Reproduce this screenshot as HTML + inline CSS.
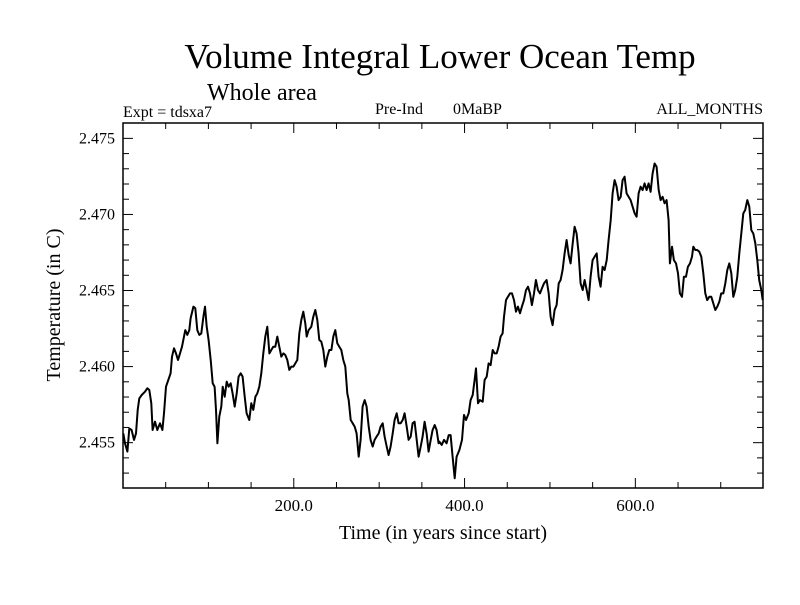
<!DOCTYPE html>
<html><head><meta charset="utf-8"><style>
body{margin:0;background:#fff}
svg text{font-family:"Liberation Serif",serif;fill:#000}
</style></head><body>
<svg id="chart" width="800" height="600" viewBox="0 0 800 600">
<rect width="800" height="600" fill="#fff"/>
<text x="440" y="68" font-size="35" text-anchor="middle">Volume Integral Lower Ocean Temp</text>
<text x="207" y="100" font-size="24">Whole area</text>
<text x="123" y="117" font-size="16">Expt = tdsxa7</text>
<text x="375" y="114" font-size="16">Pre-Ind</text>
<text x="453" y="114" font-size="16">0MaBP</text>
<text x="763" y="114" font-size="16" text-anchor="end">ALL_MONTHS</text>
<g id="axes"></g>
<rect x="123" y="123" width="640" height="365" fill="none" stroke="#000" stroke-width="1.5"/>
<text x="443" y="539" font-size="20" text-anchor="middle">Time (in years since start)</text>
<text transform="translate(60,305) rotate(-90)" font-size="20" text-anchor="middle">Temperature (in C)</text>
</svg>
<script>
const years=[0.4,2.3,5.1,7.4,10.1,12.9,15.2,17.2,19.1,21.9,25.8,28.5,30.8,33.2,34.7,37.5,40.2,43.3,46.1,48.0,50.4,53.1,55.8,57.4,59.7,62.1,64.4,66.8,69.1,71.4,73.0,75.3,77.7,79.2,82.4,84.7,87.0,89.4,91.7,94.1,96.0,98.0,100.3,102.7,105.0,107.3,108.9,110.5,112.8,115.1,116.7,119.1,121.4,123.7,126.1,128.4,130.8,133.1,135.4,137.8,140.1,142.5,144.8,147.9,150.3,152.6,155.0,157.3,159.6,162.0,164.3,166.7,169.0,171.4,173.7,176.0,178.4,180.7,183.1,185.4,187.8,190.1,192.4,194.8,197.1,199.5,201.8,204.1,206.5,208.8,211.2,213.5,215.1,217.4,220.5,222.9,225.2,227.6,229.9,232.2,234.6,236.9,239.3,241.6,244.0,246.3,248.6,251.0,253.3,255.7,258.0,260.3,262.7,264.3,266.6,269.0,271.3,273.6,276.0,278.3,280.6,283.0,285.3,287.7,290.0,292.4,294.7,297.0,299.4,301.7,304.1,306.4,308.8,311.1,313.4,315.8,318.1,320.5,322.8,325.1,327.5,329.8,332.2,334.5,336.9,339.2,341.5,343.9,346.2,348.6,350.9,353.2,355.6,357.9,360.3,362.6,365.0,367.3,369.6,370.4,373.2,375.9,379.0,381.4,383.7,386.0,388.4,390.7,393.9,397.0,399.3,401.7,404.8,407.1,409.5,411.8,413.4,415.7,418.0,421.2,423.5,425.9,428.2,430.5,432.9,435.2,437.6,439.9,442.2,444.6,446.2,448.5,450.8,453.2,455.5,457.9,460.2,462.5,464.9,467.2,469.6,471.9,474.3,476.6,478.9,481.3,483.6,486.0,488.3,490.6,493.0,496.1,498.5,500.8,503.1,505.5,507.8,510.2,512.5,514.8,517.2,519.5,521.9,524.2,526.6,528.9,531.2,533.6,535.9,538.3,540.6,543.0,545.3,547.6,550.0,552.3,554.7,557.0,559.3,561.7,564.0,566.4,568.7,571.1,573.4,575.7,578.1,580.4,582.8,585.1,587.4,589.8,592.1,594.5,596.8,599.2,601.5,603.8,606.2,608.5,610.9,613.2,615.5,617.9,620.2,622.6,624.9,627.3,629.6,631.9,634.3,636.6,639.0,640.5,642.9,645.2,647.6,649.9,652.2,654.6,656.9,659.3,661.6,664.0,666.3,667.9,670.2,672.5,674.9,677.2,679.6,681.9,684.2,686.6,688.9,691.3,693.6,696.0,698.3,700.6,703.0,705.3,707.7,710.0,712.4,714.7,717.0,719.4,721.7,724.1,726.4,728.7,731.1,733.4,735.8,738.1,740.5,742.8,745.1,747.5,749.1];
const temps=[2.45561,2.45496,2.45441,2.45594,2.45583,2.45518,2.45561,2.45715,2.45791,2.45813,2.45835,2.45857,2.45846,2.45759,2.45583,2.45638,2.45583,2.45627,2.45583,2.45693,2.45868,2.45912,2.45956,2.46065,2.46120,2.46087,2.46043,2.46087,2.46131,2.46197,2.46240,2.46208,2.46240,2.46317,2.46394,2.46383,2.46240,2.46208,2.46218,2.46328,2.46394,2.46262,2.46175,2.46043,2.45890,2.45868,2.45715,2.45496,2.45671,2.45737,2.45868,2.45802,2.45901,2.45868,2.45890,2.45824,2.45737,2.45824,2.45934,2.45956,2.45934,2.45802,2.45693,2.45649,2.45759,2.45715,2.45802,2.45824,2.45868,2.45956,2.46087,2.46197,2.46262,2.46087,2.46109,2.46131,2.46131,2.46197,2.46131,2.46065,2.46087,2.46076,2.46043,2.45978,2.46000,2.46000,2.46021,2.46043,2.46218,2.46306,2.46361,2.46284,2.46197,2.46240,2.46262,2.46328,2.46372,2.46306,2.46175,2.46164,2.46109,2.46000,2.46065,2.46109,2.46109,2.46197,2.46240,2.46153,2.46131,2.46109,2.46043,2.46000,2.45824,2.45780,2.45649,2.45627,2.45605,2.45561,2.45408,2.45518,2.45737,2.45780,2.45737,2.45605,2.45518,2.45474,2.45518,2.45540,2.45561,2.45605,2.45627,2.45540,2.45474,2.45419,2.45474,2.45561,2.45649,2.45693,2.45627,2.45627,2.45649,2.45693,2.45605,2.45518,2.45540,2.45627,2.45638,2.45518,2.45408,2.45474,2.45540,2.45638,2.45561,2.45441,2.45518,2.45583,2.45616,2.45583,2.45496,2.45507,2.45485,2.45518,2.45496,2.45550,2.45550,2.45408,2.45266,2.45408,2.45452,2.45518,2.45682,2.45649,2.45693,2.45780,2.45813,2.45912,2.45988,2.45759,2.45780,2.45769,2.45912,2.45934,2.46021,2.46010,2.46109,2.46087,2.46087,2.46131,2.46197,2.46218,2.46328,2.46437,2.46459,2.46481,2.46481,2.46437,2.46361,2.46394,2.46350,2.46394,2.46437,2.46503,2.46525,2.46481,2.46404,2.46481,2.46569,2.46503,2.46481,2.46514,2.46547,2.46569,2.46481,2.46328,2.46273,2.46372,2.46404,2.46547,2.46569,2.46635,2.46744,2.46832,2.46733,2.46678,2.46810,2.46919,2.46875,2.46744,2.46547,2.46503,2.46569,2.46503,2.46437,2.46591,2.46700,2.46722,2.46744,2.46591,2.46525,2.46656,2.46635,2.46700,2.46832,2.46963,2.47138,2.47226,2.47182,2.47094,2.47116,2.47226,2.47248,2.47138,2.47116,2.47094,2.47051,2.47007,2.46985,2.47138,2.47182,2.47160,2.47204,2.47160,2.47204,2.47149,2.47270,2.47335,2.47313,2.47160,2.47094,2.47116,2.47073,2.47094,2.46963,2.46678,2.46788,2.46700,2.46678,2.46613,2.46481,2.46459,2.46591,2.46591,2.46656,2.46678,2.46722,2.46788,2.46766,2.46766,2.46755,2.46722,2.46613,2.46481,2.46437,2.46459,2.46459,2.46416,2.46372,2.46394,2.46426,2.46481,2.46481,2.46547,2.46635,2.46678,2.46613,2.46459,2.46503,2.46591,2.46744,2.46875,2.47007,2.47029,2.47094,2.47051,2.46897,2.46875,2.46810,2.46700,2.46569,2.46503,2.46437];
const xTickValues=[200,400,600];
const xTickLabels=["200.0","400.0","600.0"];
const yTickValues=[2.455,2.460,2.465,2.470,2.475];
const yTickLabels=["2.455","2.460","2.465","2.470","2.475"];

const X0=123,X1=763,Y0=488,Y1=123,XMIN=0,XMAX=749.5,YMIN=2.45202,YMAX=2.47601;
function sx(v){return X0+(v-XMIN)/(XMAX-XMIN)*(X1-X0);}
function sy(v){return Y0-(v-YMIN)/(YMAX-YMIN)*(Y0-Y1);}
const NS="http://www.w3.org/2000/svg";
const g=document.getElementById('axes');
function mk(t,a){const e=document.createElementNS(NS,t);for(const k in a)e.setAttribute(k,a[k]);g.appendChild(e);return e;}
for(let yv=50;yv<XMAX;yv+=50){
  const major=yv%200===0,len=major?10:6,x=sx(yv);
  const t1=mk('line',{x1:x,y1:Y0,x2:x,y2:Y0-len,stroke:'#000','stroke-width':1});
  
  
  const t2=mk('line',{x1:x,y1:Y1,x2:x,y2:Y1+len,stroke:'#000','stroke-width':1});
  
  
}
xTickValues.forEach((v,i)=>{
  const t=mk('text',{x:sx(v),y:511,'font-size':17,'text-anchor':'middle'});
  t.textContent=xTickLabels[i];
  
  
});
for(let k=2453;k<=2475;k++){
  const v=k/1000,major=k%5===0,len=major?10:6,y=sy(v);
  const t1=mk('line',{x1:X0,y1:y,x2:X0+len,y2:y,stroke:'#000','stroke-width':1});
  
  
  const t2=mk('line',{x1:X1,y1:y,x2:X1-len,y2:y,stroke:'#000','stroke-width':1});
  
  
}
yTickValues.forEach((v,i)=>{
  const t=mk('text',{x:115,y:sy(v)+5,'font-size':16,'text-anchor':'end'});
  t.textContent=yTickLabels[i];
  
  
});
const d=years.map((yr,i)=>(i?'L':'M')+sx(yr).toFixed(1)+' '+sy(temps[i]).toFixed(1)).join(' ');
const p=mk('path',{d:d,fill:'none',stroke:'#000','stroke-width':2,'stroke-linejoin':'round'});


</script>
</body></html>
